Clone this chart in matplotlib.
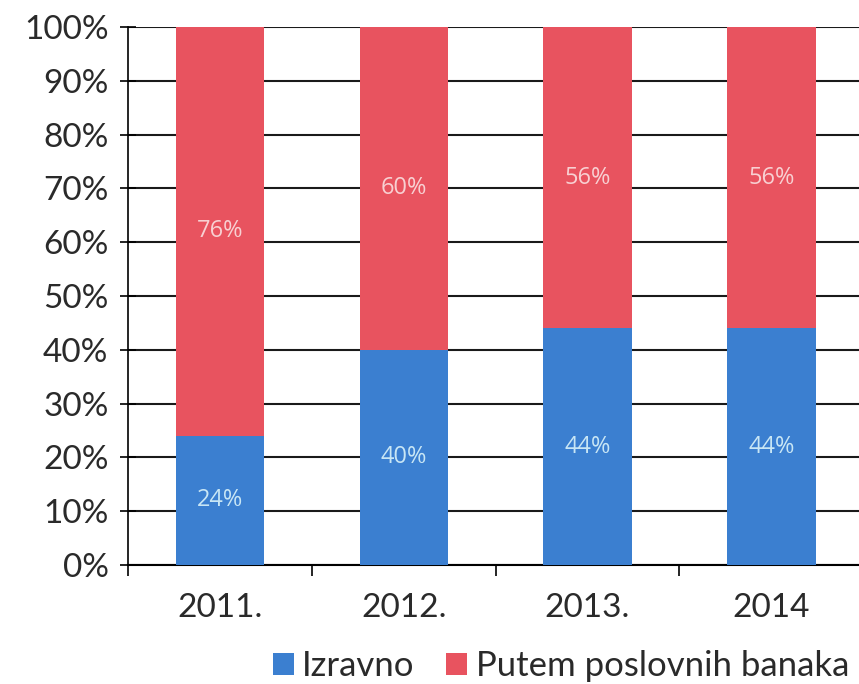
import matplotlib.pyplot as plt
import numpy as np

years = ['2011.', '2012.', '2013.', '2014']
izravno = [24, 40, 44, 44]
banke = [76, 60, 56, 56]
series_names = ['Izravno', 'Putem poslovnih banaka']

blue = '#3b7fd0'
red = '#e8535f'
plt.rcParams['font.family'] = ['Lato', 'DejaVu Sans']

fig = plt.figure(figsize=(8.59, 6.84), dpi=100)
ax = fig.add_axes([0.149, 0.174, 0.856, 0.7865])

x = np.arange(len(years))
w = 0.48
b1 = ax.bar(x, izravno, w, color=blue, zorder=3, label=series_names[0])
b2 = ax.bar(x, banke, w, bottom=izravno, color=red, zorder=3, label=series_names[1])

# data labels inside the segments
for xi, v in zip(x, izravno):
    ax.text(xi, v / 2, f'{v}%', ha='center', va='center', fontsize=17,
            color='#c8e6f5', zorder=4, family='Open Sans')
for xi, v, b in zip(x, banke, izravno):
    ax.text(xi, b + v / 2, f'{v}%', ha='center', va='center', fontsize=17,
            color='#f8d0d2', zorder=4, family='Open Sans')

ax.set_ylim(0, 100)
ax.set_xlim(-0.5, 3.5)
ax.set_yticks(np.arange(0, 101, 10))
ax.set_yticklabels([f'{t}%' for t in range(0, 101, 10)], fontsize=24, color='#2a2a2a')
ax.yaxis.grid(True, color='#1a1a1a', linewidth=1.5, zorder=0)
ax.set_axisbelow(True)

ax.set_xticks(x)
ax.set_xticklabels(years, fontsize=24, color='#2a2a2a')
ax.tick_params(axis='x', length=0, pad=20)
ax.set_xticks(np.arange(-0.5, 4, 1), minor=True)
ax.tick_params(axis='x', which='minor', length=8, width=1.2, direction='out')
ax.tick_params(axis='y', length=12, width=1.2, direction='inout', pad=8)

for s in ['top', 'right']:
    ax.spines[s].set_visible(False)
ax.spines['left'].set_linewidth(1.2)
ax.spines['bottom'].set_linewidth(1.5)

fig.legend(handles=[b1, b2], labels=series_names, loc='center',
           bbox_to_anchor=(0.653, 0.026), ncol=2, frameon=False, fontsize=25,
           handlelength=0.6, handleheight=0.6, handletextpad=0.25, columnspacing=0.9,
           labelcolor='#2a2a2a')

fig.savefig('out.png', dpi=100)
